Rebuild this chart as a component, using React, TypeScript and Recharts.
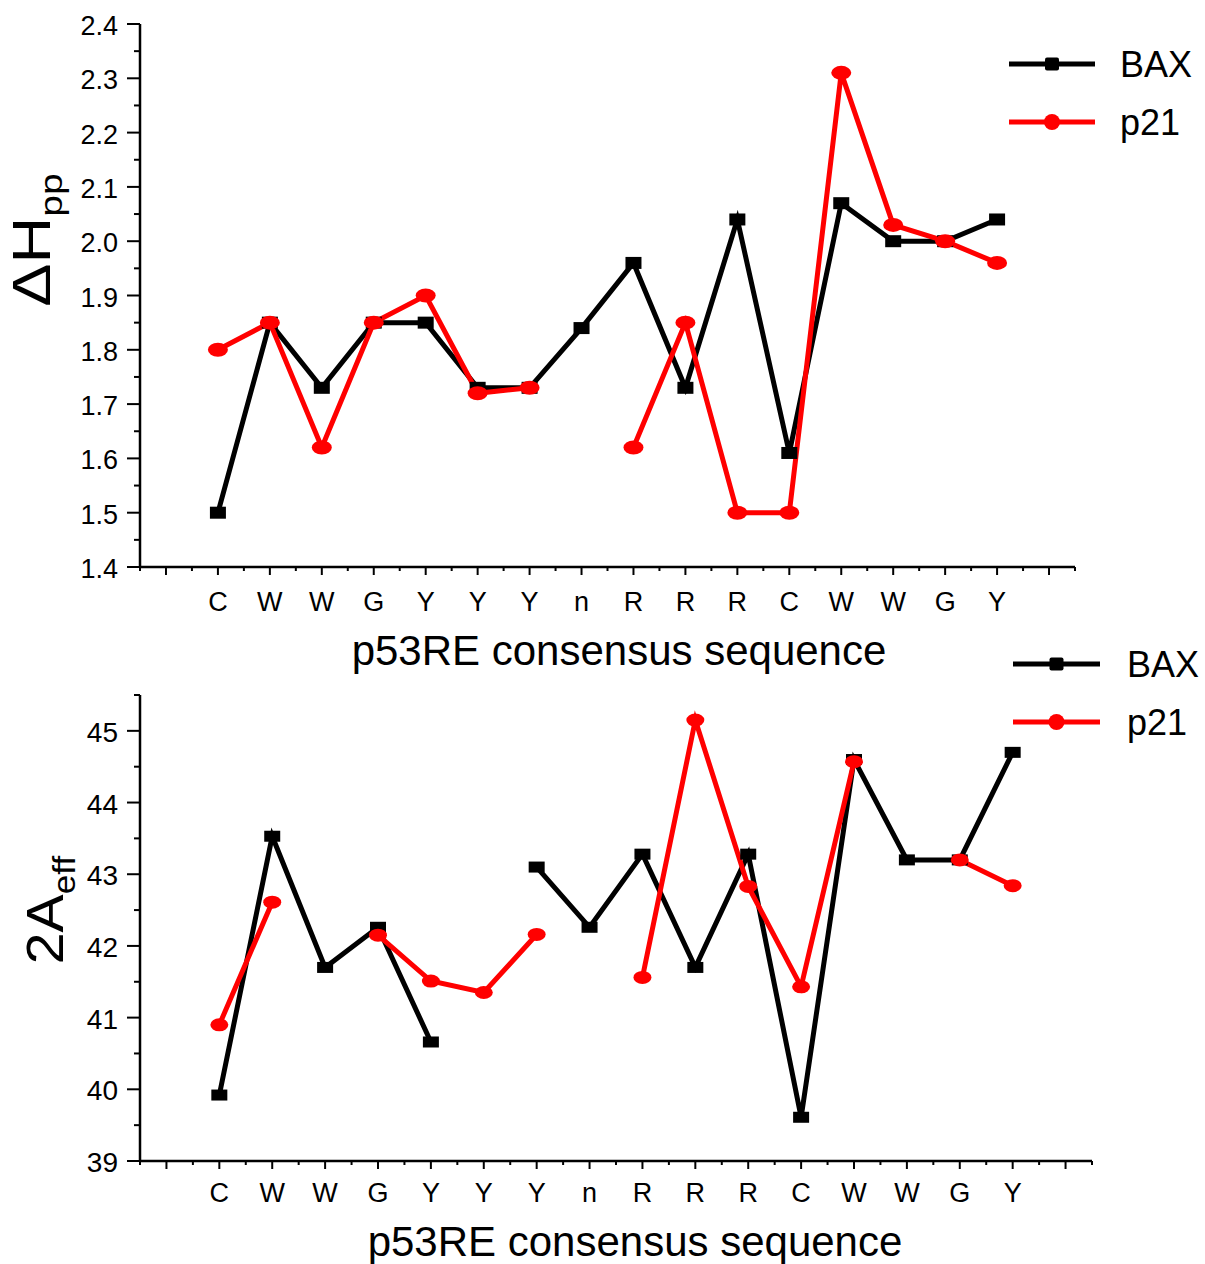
import React from 'react';
import { LineChart, Line, XAxis, YAxis, Legend, Label } from 'recharts';

const FONT = '"Liberation Sans", Arial, Helvetica, sans-serif';

// Sequence positions (p53RE consensus)
const categories = ['C', 'W', 'W', 'G', 'Y', 'Y', 'Y', 'n', 'R', 'R', 'R', 'C', 'W', 'W', 'G', 'Y'];

// Top panel: ΔHpp
const dhBAX = [1.5, 1.85, 1.73, 1.85, 1.85, 1.73, 1.73, 1.84, 1.96, 1.73, 2.04, 1.61, 2.07, 2.0, 2.0, 2.04];
const dhP21 = [1.8, 1.85, 1.62, 1.85, 1.9, 1.72, 1.73, null, 1.62, 1.85, 1.5, 1.5, 2.31, 2.03, 2.0, 1.96];

// Bottom panel: 2Aeff
const aBAX = [39.92, 43.53, 41.7, 42.26, 40.66, null, 43.1, 42.26, 43.28, 41.7, 43.28, 39.61, 44.6, 43.2, 43.2, 44.7];
const aP21 = [40.9, 42.61, null, 42.15, 41.51, 41.35, 42.16, null, 41.56, 45.15, 42.83, 41.43, 44.57, null, 43.2, 42.84];

const seriesNames = ['BAX', 'p21'];

const topData = categories.map((c, i) => ({ x: i + 1, cat: c, bax: dhBAX[i], p21: dhP21[i] }));
const botData = categories.map((c, i) => ({ x: i + 1, cat: c, bax: aBAX[i], p21: aP21[i] }));

const xTicks: number[] = [];
for (let k = -1; k <= 35; k++) xTicks.push(k / 2);
const topYTicks: number[] = [];
for (let k = 28; k <= 48; k++) topYTicks.push(k / 20);
const botYTicks: number[] = [];
for (let k = 78; k <= 91; k++) botYTicks.push(k / 2);

const makeXTick = (labelDy: number) => (props: any) => {
  const { x, y, payload } = props;
  const v = payload.value;
  const isMajor = Math.abs(v - Math.round(v)) < 1e-6;
  const idx = Math.round(v) - 1;
  const label = isMajor && idx >= 0 && idx < categories.length ? categories[idx] : null;
  return (
    <g>
      <line x1={x} x2={x} y1={y} y2={y + (isMajor ? 8 : 4)} stroke="#000" strokeWidth={2} />
      {label && (
        <text x={x} y={y + labelDy} textAnchor="middle" fontSize={27} fontFamily={FONT} fill="#000">
          {label}
        </text>
      )}
    </g>
  );
};

const makeYTick = (isMajorFn: (v: number) => boolean, fmt: (v: number) => string, fontSize: number) => (props: any) => {
  const { x, y, payload } = props;
  const v = payload.value;
  const major = isMajorFn(v);
  return (
    <g>
      <line x1={x} x2={x - (major ? 13 : 6)} y1={y} y2={y} stroke="#000" strokeWidth={2} />
      {major && (
        <text x={x - 22} y={y + 11} textAnchor="end" fontSize={fontSize} fontFamily={FONT} fill="#000">
          {fmt(v)}
        </text>
      )}
    </g>
  );
};

const squareDot = (w: number, h: number) => (props: any) => {
  const { cx, cy, index, value } = props;
  if (cx == null || cy == null || value == null) return <g key={`s-${index}`} />;
  return <rect key={`s-${index}`} x={cx - w / 2} y={cy - h / 2} width={w} height={h} fill="#000" />;
};

const ellipseDot = (rx: number, ry: number) => (props: any) => {
  const { cx, cy, index, value } = props;
  if (cx == null || cy == null || value == null) return <g key={`e-${index}`} />;
  return <ellipse key={`e-${index}`} cx={cx} cy={cy} rx={rx} ry={ry} fill="#ff0000" />;
};

const makeLegend = (lineX1: number, lineX2: number, textX: number, y1: number, y2: number) => () => (
  <svg width={205} height={130} style={{ overflow: 'visible' }}>
    <line x1={lineX1} x2={lineX2} y1={y1} y2={y1} stroke="#000" strokeWidth={5} />
    <rect x={(lineX1 + lineX2) / 2 - 7} y={y1 - 6.5} width={14} height={13} rx={2} fill="#000" />
    <text x={textX} y={y1 + 13} fontSize={36} fontFamily={FONT} fill="#000">{seriesNames[0]}</text>
    <line x1={lineX1} x2={lineX2} y1={y2} y2={y2} stroke="#ff0000" strokeWidth={5} />
    <circle cx={(lineX1 + lineX2) / 2} cy={y2} r={8} fill="#ff0000" />
    <text x={textX} y={y2 + 13} fontSize={36} fontFamily={FONT} fill="#000">{seriesNames[1]}</text>
  </svg>
);

const xTitle = (cx: number, baseline: number) => () => (
  <text x={cx} y={baseline} textAnchor="middle" fontSize={42} fontFamily={FONT} fill="#000">
    p53RE consensus sequence
  </text>
);

const topYTitle = () => (
  <text transform="translate(50, 240) rotate(-90) scale(1.22, 1)" textAnchor="middle" fontFamily={FONT} fill="#000">
    <tspan fontSize={53}>ΔH</tspan>
    <tspan fontSize={32} dy={12}>pp</tspan>
  </text>
);

const botYTitle = () => (
  <text transform="translate(63, 250) rotate(-90) scale(1.1, 1)" textAnchor="middle" fontFamily={FONT} fill="#000">
    <tspan fontSize={52}>2A</tspan>
    <tspan fontSize={32} dy={12}>eff</tspan>
  </text>
);

export default function App() {
  return (
    <div style={{ position: 'absolute', left: 0, top: 0, width: 1205, height: 1264, background: '#fff' }}>
      <div style={{ position: 'absolute', left: 0, top: 0 }}>
        <LineChart width={1205} height={690} data={topData} margin={{ top: 24, right: 130, bottom: 23, left: 0 }}>
          <XAxis
            dataKey="x"
            type="number"
            domain={[-0.5, 17.5]}
            ticks={xTicks}
            interval={0}
            height={100}
            tickSize={0}
            tickMargin={0}
            tickLine={false}
            axisLine={{ stroke: '#000', strokeWidth: 2.5 }}
            tick={makeXTick(44)}
          >
            <Label content={xTitle(619, 665)} />
          </XAxis>
          <YAxis
            type="number"
            domain={[1.4, 2.4]}
            ticks={topYTicks}
            interval={0}
            width={140}
            tickSize={0}
            tickMargin={0}
            tickLine={false}
            axisLine={{ stroke: '#000', strokeWidth: 2.5 }}
            tick={makeYTick((v) => Math.round(v * 100) % 10 === 0, (v) => v.toFixed(1), 27)}
          >
            <Label content={topYTitle} />
          </YAxis>
          <Legend
            verticalAlign="middle"
            align="center"
            layout="horizontal"
            wrapperStyle={{ left: 1000, top: 0, width: 205, height: 130 }}
            content={makeLegend(9, 95, 120, 64, 122)}
          />
          <Line
            dataKey="bax"
            name="BAX"
            stroke="#000"
            strokeWidth={5}
            isAnimationActive={false}
            connectNulls={false}
            dot={squareDot(16, 12)}
            activeDot={false}
          />
          <Line
            dataKey="p21"
            name="p21"
            stroke="#ff0000"
            strokeWidth={5}
            isAnimationActive={false}
            connectNulls={false}
            dot={ellipseDot(10, 7)}
            activeDot={false}
          />
        </LineChart>
      </div>
      <div style={{ position: 'absolute', left: 0, top: 660 }}>
        <LineChart width={1205} height={604} data={botData} margin={{ top: 35, right: 113, bottom: 3, left: 0 }}>
          <XAxis
            dataKey="x"
            type="number"
            domain={[-0.5, 17.5]}
            ticks={xTicks}
            interval={0}
            height={100}
            tickSize={0}
            tickMargin={0}
            tickLine={false}
            axisLine={{ stroke: '#000', strokeWidth: 2.5 }}
            tick={makeXTick(41)}
          >
            <Label content={xTitle(635, 596)} />
          </XAxis>
          <YAxis
            type="number"
            domain={[39, 45.5]}
            ticks={botYTicks}
            interval={0}
            width={140}
            tickSize={0}
            tickMargin={0}
            tickLine={false}
            axisLine={{ stroke: '#000', strokeWidth: 2.5 }}
            tick={makeYTick((v) => Math.abs(v - Math.round(v)) < 1e-6, (v) => String(Math.round(v)), 28)}
          >
            <Label content={botYTitle} />
          </YAxis>
          <Legend
            verticalAlign="middle"
            align="center"
            layout="horizontal"
            wrapperStyle={{ left: 1000, top: -30, width: 205, height: 130 }}
            content={makeLegend(13, 100, 127, 34, 92)}
          />
          <Line
            dataKey="bax"
            name="BAX"
            stroke="#000"
            strokeWidth={5}
            isAnimationActive={false}
            connectNulls={false}
            dot={squareDot(16, 11)}
            activeDot={false}
          />
          <Line
            dataKey="p21"
            name="p21"
            stroke="#ff0000"
            strokeWidth={5}
            isAnimationActive={false}
            connectNulls={false}
            dot={ellipseDot(9, 6.5)}
            activeDot={false}
          />
        </LineChart>
      </div>
    </div>
  );
}
